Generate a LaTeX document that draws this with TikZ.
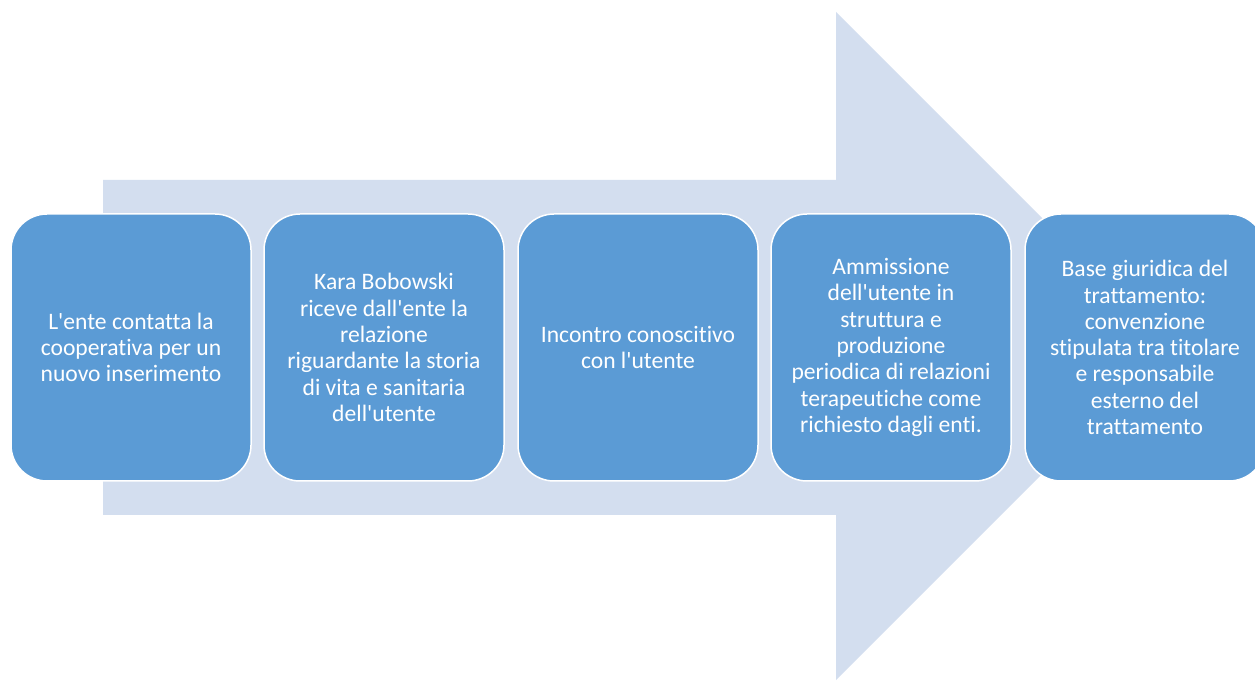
\documentclass[tikz,border=0pt]{standalone}
\usepackage{fontspec}
\newfontfamily\cf{Carlito}[Ligatures=NoCommon]
\definecolor{boxblue}{HTML}{5B9BD5}
\definecolor{arrowblue}{HTML}{D3DEEF}
\tikzset{
  stepbox/.style={draw=white, line width=1.5pt, fill=boxblue, rounded corners=36pt},
  steptext/.style={text=white, align=center, font=\cf\fontsize{23.6}{26.3}\selectfont, inner sep=0pt},
}
\begin{document}
\begin{tikzpicture}[x=1pt,y=1pt]
\useasboundingbox (0,0) rectangle (1255,680);
\clip (0,0) rectangle (1255,680);
% big background arrow
\fill[arrowblue] (103,500) -- (836,500) -- (836,668) -- (1170,334) -- (836,0) -- (836,165) -- (103,165) -- cycle;
% boxes
\foreach \i/\x in {1/11,2/264,3/518,4/771,5/1025}{
  \draw[stepbox] (\x,199) rectangle ++(240,267);
  \coordinate (c\i) at (\x+120,332.5);
}
\node[steptext] (t1) at (c1) {L'ente contatta la\\cooperativa per un\\nuovo inserimento};
\node[steptext] (t2) at (c2) {Kara Bobowski\\riceve dall'ente la\\relazione\\riguardante la storia\\di vita e sanitaria\\dell'utente};
\node[steptext] (t3) at (c3) {Incontro conoscitivo\\con l'utente};
\node[steptext] (t4) at (c4) {Ammissione\\dell'utente in\\struttura e\\produzione\\periodica di relazioni\\terapeutiche come\\richiesto dagli enti.};
\node[steptext] (t5) at (c5) {Base giuridica del\\trattamento:\\convenzione\\stipulata tra titolare\\e responsabile\\esterno del\\trattamento};
\end{tikzpicture}
\end{document}
